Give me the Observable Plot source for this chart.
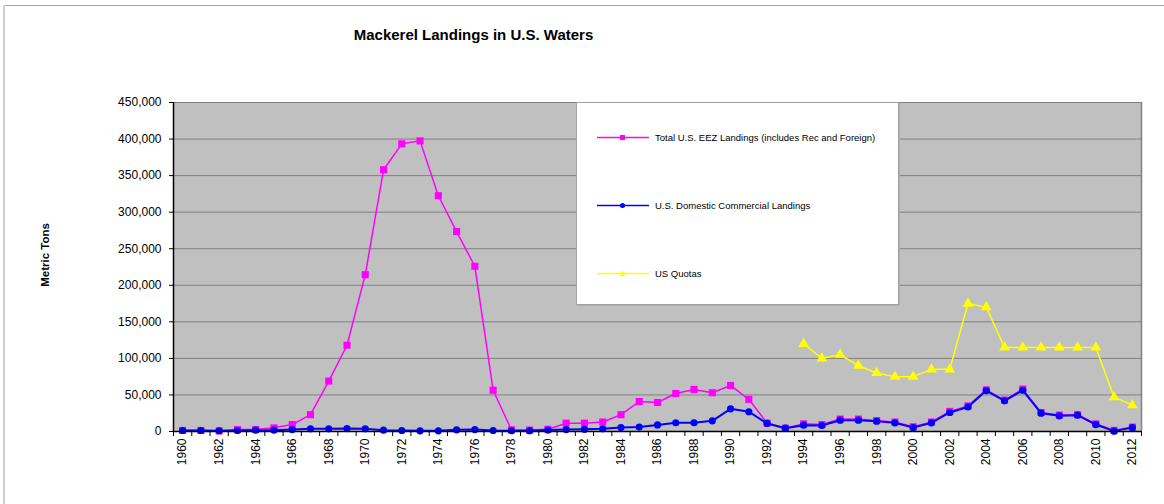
<!DOCTYPE html>
<html>
<head>
<meta charset="utf-8">
<script src="https://cdn.jsdelivr.net/npm/d3@7"></script>
<script src="https://cdn.jsdelivr.net/npm/@observablehq/plot@0.6"></script>
<style>
  html, body { margin: 0; padding: 0; background: #fff; }
  #wrap { position: relative; width: 1164px; height: 504px; overflow: hidden; font-family: "Liberation Sans", Arial, sans-serif; }
  #frame-top { position: absolute; left: 3px; top: 5px; width: 1161px; height: 1px; background: #a8a8a8; }
  #frame-left { position: absolute; left: 3px; top: 5px; width: 2px; height: 499px; background: #d0d0d0; }
  #title { position: absolute; left: 0; width: 947px; top: 26px; text-align: center; font-weight: bold; font-size: 15px; color: #000; }
  #ylabel { position: absolute; left: 45px; top: 255px; width: 0; height: 0; }
  #ylabel span { position: absolute; left: 0; top: 0; transform: translate(-50%, -50%) rotate(-90deg); font-weight: bold; font-size: 11.5px; white-space: nowrap; color: #000; }
  #legend { position: absolute; left: 576px; top: 102px; width: 321px; height: 201px; background: #fff; border: 1px solid #a0a0a0; box-shadow: 1px 1px 0 #b0b0b0; }
  .lg { position: absolute; left: 20px; height: 12px; display: flex; align-items: center; font-size: 9.5px; color: #000; white-space: nowrap; }
  .lg svg { margin-right: 6px; }
</style>
</head>
<body>
<div id="wrap">
  <div id="chart"></div>
  <div id="frame-top"></div>
  <div id="frame-left"></div>
  <div id="title">Mackerel Landings in U.S. Waters</div>
  <div id="ylabel"><span>Metric Tons</span></div>
  <div id="legend"></div>
</div>
<script>
// ---- data ----
const years = d3.range(1960, 2013);
const totalEEZ = [1400, 1400, 800, 2700, 2700, 5000, 9500, 23000, 69000, 118000,
  214500, 358000, 393500, 397500, 322500, 273500, 226000, 56500, 2300, 2000,
  3000, 11400, 11400, 13000, 23000, 41000, 39700, 52000, 57500, 53000,
  63000, 44000, 11500, 4500, 10500, 9500, 17000, 17000, 15000, 13000,
  6500, 13000, 27500, 35000, 57000, 43000, 58000, 26000, 22500, 23000,
  10500, 1500, 6000];
const domestic = [1400, 1400, 1000, 1400, 1800, 1800, 2700, 3600, 3600, 4000,
  3600, 1800, 1400, 900, 900, 2300, 2700, 1400, 1000, 1000,
  2000, 2700, 3000, 3600, 5500, 6000, 9000, 12000, 12000, 14600,
  31000, 27000, 11000, 4500, 8600, 8200, 15500, 15500, 14000, 11800,
  5500, 11800, 26000, 33600, 56000, 42000, 56400, 25000, 21400, 22300,
  9500, 500, 5500];
const quotaYears = d3.range(1994, 2013);
const quotas = [120000, 100000, 105000, 90000, 80000, 75000, 75000, 85000, 85000,
  175000, 170000, 115000, 115000, 115000, 115000, 115000, 115000, 47000, 36000];
const yTicks = d3.range(0, 450001, 50000);
const xLabelYears = d3.range(1960, 2013, 2);
const seriesNames = ["Total U.S. EEZ Landings (includes Rec and Foreign)", "U.S. Domestic Commercial Landings", "US Quotas"];
const seriesColors = ["#ff00ff", "#0000ff", "#ffff00"];

const totalData = years.map((y, i) => ({year: y, value: totalEEZ[i]}));
const domData = years.map((y, i) => ({year: y, value: domestic[i]}));
const quotaData = quotaYears.map((y, i) => ({year: y, value: quotas[i]}));
const boundaries = d3.range(years[0] - 0.5, years[years.length - 1] + 1, 1);

const chart = Plot.plot({
  width: 1164,
  height: 504,
  marginLeft: 173,
  marginRight: 23,
  marginTop: 102,
  marginBottom: 73,
  style: {fontFamily: "'Liberation Sans', Arial, sans-serif", fontSize: "12px", color: "#000", background: "transparent"},
  x: {type: "linear", domain: [years[0] - 0.5, years[years.length - 1] + 0.5]},
  y: {domain: [0, 450000]},
  marks: [
    Plot.frame({fill: "#c0c0c0", stroke: null}),
    Plot.gridY(yTicks, {stroke: "#808080", strokeOpacity: 1, strokeWidth: 1}),
    Plot.ruleX([years[years.length - 1] + 0.5], {stroke: "#808080", strokeWidth: 1.5}),
    Plot.axisY({ticks: yTicks, tickFormat: d3.format(","), tickSize: 4, tickPadding: 8, label: null, fontSize: 12}),
    Plot.axisX({ticks: boundaries, tickSize: 5, tickFormat: () => "", label: null}),
    Plot.axisX({ticks: xLabelYears, tickSize: 0, tickPadding: 7, tickRotate: -90, tickFormat: d => String(d), label: null, fontSize: 12}),
    Plot.line(totalData, {x: "year", y: "value", stroke: seriesColors[0], strokeWidth: 1.5}),
    Plot.dot(totalData, {x: "year", y: "value", symbol: "square", r: 4, fill: seriesColors[0], stroke: null}),
    Plot.line(domData, {x: "year", y: "value", stroke: seriesColors[1], strokeWidth: 2}),
    Plot.dot(domData, {x: "year", y: "value", symbol: "circle", r: 3.6, fill: seriesColors[1], stroke: null}),
    Plot.line(quotaData, {x: "year", y: "value", stroke: seriesColors[2], strokeWidth: 1.5}),
    Plot.dot(quotaData, {x: "year", y: "value", symbol: "triangle", r: 4, fill: seriesColors[2], stroke: null}),
    Plot.ruleX([years[0] - 0.5], {stroke: "#000", strokeWidth: 1.5}),
    Plot.ruleY([0], {stroke: "#000", strokeWidth: 1.5})
  ]
});
document.getElementById("chart").appendChild(chart);

// legend
const legend = document.getElementById("legend");
const rowTops = [28, 96, 164];
const shapes = [
  c => `<rect x="23" y="3" width="5" height="5" fill="${c}"/>`,
  c => `<circle cx="25.5" cy="5.5" r="2.5" fill="${c}"/>`,
  c => `<path d="M25.5,2.5 L28.5,8 L22.5,8 Z" fill="${c}"/>`
];
seriesNames.forEach((name, i) => {
  const row = document.createElement("div");
  row.className = "lg";
  row.style.top = rowTops[i] + "px";
  row.innerHTML = `<svg width="52" height="11"><line x1="0" x2="52" y1="5.5" y2="5.5" stroke="${seriesColors[i]}" stroke-width="1.5"/>${shapes[i](seriesColors[i])}</svg><span>${name}</span>`;
  legend.appendChild(row);
});
</script>
</body>
</html>
